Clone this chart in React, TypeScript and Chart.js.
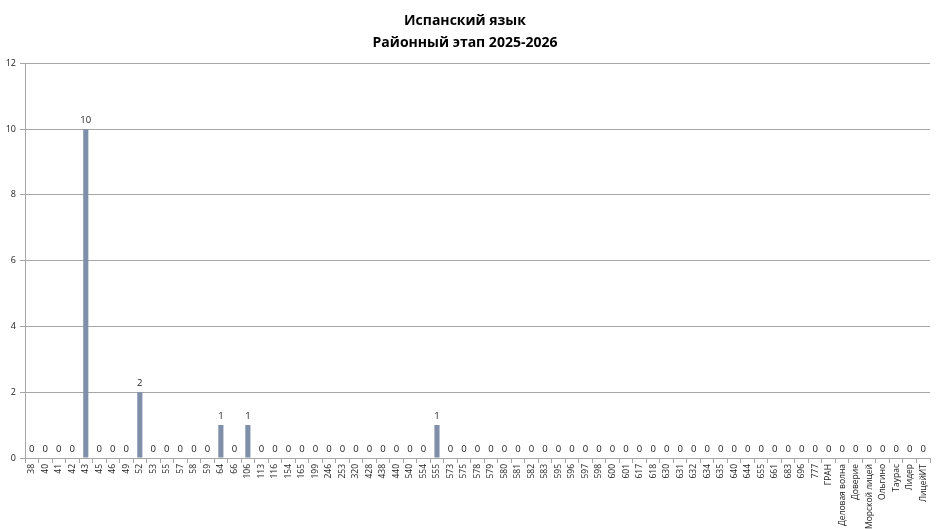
import { useEffect, useRef } from "react";
import { Chart, registerables } from "chart.js";
Chart.register(...registerables);

// schools (x categories) and number of participants
const schools = [
  "38", "40", "41", "42", "43", "45", "46", "49", "52", "53",
  "55", "57", "58", "59", "64", "66", "106", "113", "116", "154",
  "165", "199", "246", "253", "320", "428", "438", "440", "540", "554",
  "555", "573", "575", "578", "579", "580", "581", "582", "583", "595",
  "596", "597", "598", "600", "601", "617", "618", "630", "631", "632",
  "634", "635", "640", "644", "655", "661", "683", "696", "777", "ГРАН",
  "Деловая волна", "Доверие", "Морской лицей", "Ольгино", "Таурас", "Лидер", "ЛицейИТ",
];

const participants = [
  0, 0, 0, 0, 10, 0, 0, 0, 2, 0,
  0, 0, 0, 0, 1, 0, 1, 0, 0, 0,
  0, 0, 0, 0, 0, 0, 0, 0, 0, 0,
  1, 0, 0, 0, 0, 0, 0, 0, 0, 0,
  0, 0, 0, 0, 0, 0, 0, 0, 0, 0,
  0, 0, 0, 0, 0, 0, 0, 0, 0, 0,
  0, 0, 0, 0, 0, 0, 0,
];

const titleLines = ["Испанский язык", "Районный этап 2025-2026"];
const yMax = 12;
const yStep = 2;

const FONT = "'Open Sans', 'Noto Sans', sans-serif";
const GRID = "#a6a6a6";

// draws the value above every bar, zeros included
const valueLabels = {
  id: "valueLabels",
  afterDatasetsDraw(chart: Chart) {
    const { ctx } = chart;
    const meta = chart.getDatasetMeta(0);
    const values = chart.data.datasets[0].data as number[];
    ctx.save();
    ctx.font = `9.5px ${FONT}`;
    ctx.fillStyle = "#1a1a1a";
    ctx.textAlign = "center";
    ctx.textBaseline = "bottom";
    meta.data.forEach((bar: any, i: number) => {
      ctx.fillText(String(values[i]), bar.x, bar.y - 4);
    });
    ctx.restore();
  },
};

const App = () => {
  const canvasRef = useRef<HTMLCanvasElement>(null);

  useEffect(() => {
    if (!canvasRef.current) return;
    const chart = new Chart(canvasRef.current, {
      type: "bar",
      data: {
        labels: schools,
        datasets: [
          {
            data: participants,
            backgroundColor: "#7f8fa9",
            barPercentage: 0.38,
            categoryPercentage: 1,
          },
        ],
      },
      options: {
        responsive: true,
        maintainAspectRatio: false,
        animation: false,
        layout: { padding: { left: 0, right: 10, top: 0, bottom: 0 } },
        plugins: {
          legend: { display: false },
          tooltip: { enabled: false },
          title: {
            display: true,
            text: titleLines,
            color: "#000",
            font: { family: FONT, size: 14, weight: "bold", lineHeight: 1.55 },
            padding: { top: 10, bottom: 10 },
          },
        },
        scales: {
          x: {
            afterFit: (scale: any) => {
              scale.height = 71;
            },
            grid: {
              offset: true,
              drawOnChartArea: false,
              drawTicks: true,
              tickLength: 5,
              color: GRID,
            },
            border: { color: GRID },
            ticks: {
              autoSkip: false,
              minRotation: 90,
              maxRotation: 90,
              padding: 1,
              color: "#1a1a1a",
              font: { family: FONT, size: 8.5 },
            },
          },
          y: {
            min: 0,
            max: yMax,
            afterFit: (scale: any) => {
              scale.width = 25;
            },
            grid: { color: GRID, tickLength: 5 },
            border: { color: GRID },
            ticks: {
              stepSize: yStep,
              padding: 4,
              color: "#1a1a1a",
              font: { family: FONT, size: 9 },
            },
          },
        },
      },
      plugins: [valueLabels],
    });
    return () => chart.destroy();
  }, []);

  return (
    <div style={{ position: "absolute", left: 0, top: 0, width: 940, height: 529, background: "#fff" }}>
      <canvas ref={canvasRef}></canvas>
    </div>
  );
};

export default App;
